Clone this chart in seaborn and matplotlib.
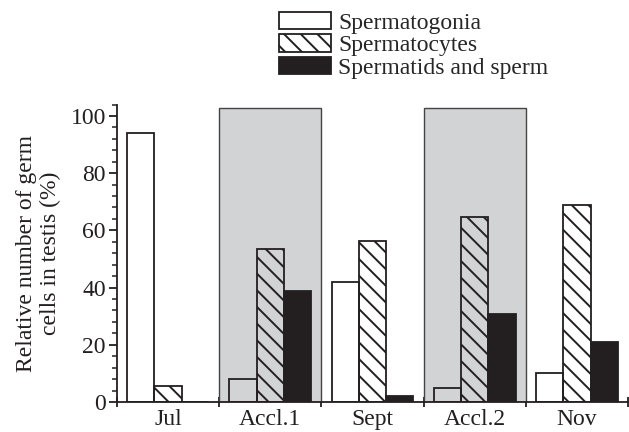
import numpy as np
import pandas as pd
import seaborn as sns
import matplotlib
matplotlib.use("Agg")
import matplotlib.pyplot as plt
from matplotlib.patches import Rectangle, Patch
from matplotlib.ticker import MultipleLocator, FixedLocator

months = ["Jul", "Accl.1", "Sept", "Accl.2", "Nov"]
cell_types = ["Spermatogonia", "Spermatocytes", "Spermatids and sperm"]
spermatogonia = [94.2, 8.0, 42.1, 5.0, 10.1]
spermatocytes = [5.6, 53.4, 56.4, 64.7, 68.9]
spermatids = [0.0, 38.9, 2.2, 30.7, 21.1]
shaded_months = ["Accl.1", "Accl.2"]

df = pd.DataFrame({
    "month": months * 3,
    "type": np.repeat(cell_types, len(months)),
    "value": spermatogonia + spermatocytes + spermatids,
})

sns.set_style("ticks")
plt.rcParams["font.family"] = "serif"
plt.rcParams["font.serif"] = ["Liberation Serif", "Times New Roman", "DejaVu Serif"]
plt.rcParams["hatch.linewidth"] = 1.4
FS = 17

fig = plt.figure(figsize=(6.29, 4.32), dpi=100)
ax = fig.add_axes([117/629, 30/432, 511/629, (402-104.5)/432])

black = "#231f20"
ax = sns.barplot(data=df, x="month", y="value", hue="type", order=months,
                 hue_order=cell_types, palette=["white", "white", black],
                 edgecolor=black, linewidth=1.3, width=0.8, ax=ax, zorder=3,
                 legend=False)

styles = [dict(fc="none", hatch=None), dict(fc="none", hatch="\\\\"), dict(fc=black, hatch=None)]
for cont, st in zip(ax.containers, styles):
    for p in cont.patches:
        p.set_facecolor(st["fc"])
        p.set_edgecolor(black)
        if st["hatch"]:
            p.set_hatch(st["hatch"])

for m in shaded_months:
    i = months.index(m)
    ax.add_patch(Rectangle((i - 0.5, 0), 1.0, 102.7, facecolor="#d2d3d5",
                           edgecolor="#444444", linewidth=1.0, zorder=1))

ax.set_xlim(-0.5, len(months) - 0.5)
ax.set_ylim(0, 104)
ax.yaxis.set_major_locator(MultipleLocator(20))
ax.yaxis.set_minor_locator(MultipleLocator(4))
ax.set_xticks(range(len(months)))
ax.set_xticklabels(months)
ax.xaxis.set_minor_locator(FixedLocator(np.arange(-0.5, len(months), 1.0)))
ax.tick_params(axis="x", which="major", length=0, labelsize=FS, pad=5, colors=black)
ax.tick_params(axis="x", which="minor", length=7, direction="inout", width=1.3, color=black)
ax.tick_params(axis="y", which="major", length=6, width=1.3, labelsize=FS, pad=2, colors=black)
ax.tick_params(axis="y", which="minor", length=3.5, width=1.1, color=black)
for s in ["left", "bottom"]:
    ax.spines[s].set_linewidth(1.3)
    ax.spines[s].set_color(black)
sns.despine(ax=ax)
ax.set_xlabel("")
ax.set_ylabel("Relative number of germ\ncells in testis (%)", fontsize=FS, color=black,
              labelpad=7, linespacing=1.15)

handles = [Patch(facecolor="white", edgecolor=black, linewidth=1.3),
           Patch(facecolor="white", edgecolor=black, linewidth=1.3, hatch="\\\\"),
           Patch(facecolor=black, edgecolor=black, linewidth=1.3)]
fig.legend(handles, cell_types, loc="upper left", bbox_to_anchor=(279/629, 1 - 12/432),
           frameon=False, fontsize=FS, handlelength=2.2, handleheight=0.75,
           handletextpad=0.3, labelspacing=0.02, borderpad=0, borderaxespad=0)

fig.savefig("out.png", dpi=100)
